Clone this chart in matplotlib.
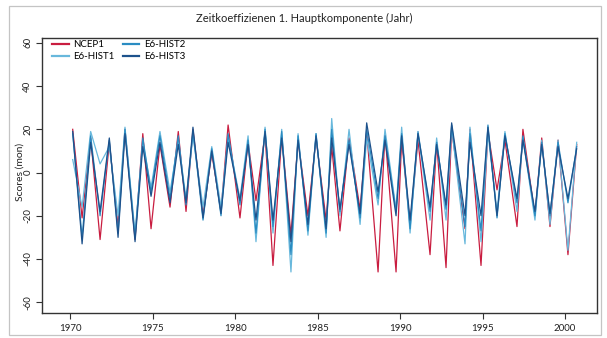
import numpy as np
import matplotlib.pyplot as plt
from matplotlib.patches import Rectangle

plt.rcParams['font.family'] = ['Lato', 'DejaVu Sans']

# turning points (peak, then trough, alternating)
peak_years = [1970.16, 1971.25, 1972.38, 1973.33, 1974.41, 1975.45, 1976.56, 1977.45,
              1978.59, 1979.58, 1980.79, 1981.82, 1982.83, 1983.82, 1984.91, 1985.86,
              1986.91, 1987.98, 1989.09, 1990.10, 1991.09, 1992.22, 1993.13, 1994.24,
              1995.33, 1996.36, 1997.45, 1998.59, 1999.58, 2000.71]
trough_years = [1970.73, 1971.82, 1972.91, 1973.94, 1974.91, 1976.06, 1977.03, 1978.06,
                1979.15, 1980.30, 1981.27, 1982.30, 1983.39, 1984.42, 1985.52, 1986.36,
                1987.58, 1988.67, 1989.76, 1990.61, 1991.82, 1992.79, 1993.94, 1994.91,
                1995.88, 1997.09, 1998.18, 1999.09, 2000.18]

ncep1_peaks = [20, 16, 14, 20, 18, 13, 19, 20, 9, 22, 14, 18, 17, 15, 16,
               12, 16, 19, 18, 15, 15, 14, 20, 20, 19, 15, 20, 16, 15, 13]
ncep1_troughs = [-21, -31, -25, -31, -26, -16, -18, -20, -18, -21, -13, -43, -29, -20, -22,
                 -27, -17, -46, -46, -24, -38, -44, -26, -43, -8, -25, -20, -25, -38]

hist1_peaks = [6, 19, 12, 21, 14, 19, 15, 17, 12, 16, 17, 21, 20, 18, 18,
               25, 20, 16, 20, 21, 18, 16, 21, 21, 18, 19, 16, 15, 15, 14]
hist1_troughs = [-16, 4, -20, -28, -7, -9, -12, -16, -16, -12, -32, -28, -46, -29, -30,
                 -20, -24, -15, -17, -28, -22, -22, -33, -32, -18, -18, -22, -24, -36]

hist2_peaks = [18, 17, 15, 20, 16, 17, 17, 19, 11, 18, 15, 20, 19, 17, 18,
               20, 15, 20, 17, 18, 19, 14, 22, 18, 22, 18, 17, 14, 14, 12]
hist2_troughs = [-30, -20, -28, -30, -9, -12, -15, -22, -20, -15, -28, -25, -38, -27, -28,
                 -18, -21, -12, -18, -26, -18, -17, -25, -27, -21, -14, -20, -20, -14]

hist3_peaks = [19, 14, 16, 18, 12, 14, 13, 21, 10, 14, 13, 19, 16, 15, 17,
               16, 13, 23, 15, 17, 18, 13, 23, 14, 21, 17, 15, 13, 12, 11]
hist3_troughs = [-33, -18, -30, -32, -11, -14, -14, -21, -19, -13, -22, -22, -32, -24, -26,
                 -17, -19, -9, -20, -22, -16, -15, -20, -20, -20, -12, -18, -19, -12]

labels = ['NCEP1', 'E6-HIST1', 'E6-HIST2', 'E6-HIST3']
colors = ['#c91d40', '#68b8dc', '#2a8cc2', '#1d528c']
xticks = [1970, 1975, 1980, 1985, 1990, 1995, 2000]
yticks = [-60, -40, -20, 0, 20, 40, 60]


def zigzag(peaks, troughs):
  '''
  interleave peaks and troughs into one line
  '''
  out = np.empty(len(peaks) + len(troughs))
  out[0::2] = peaks
  out[1::2] = troughs
  return out


years = zigzag(peak_years, trough_years)
values = [zigzag(ncep1_peaks, ncep1_troughs), zigzag(hist1_peaks, hist1_troughs),
          zigzag(hist2_peaks, hist2_troughs), zigzag(hist3_peaks, hist3_troughs)]

fig = plt.figure(figsize=(6.07, 3.38), dpi=100)
W, H = 607., 338.
ax = fig.add_axes([42/W, 1-313/H, 555/W, 275.5/H])

handles = []
for lab, col, val in zip(labels, colors, values):
  ln, = ax.plot(years, val, color=col, lw=0.9, label=lab, solid_joinstyle='round')
  handles.append(ln)

ax.set_xlim(1968.30, 2001.94)
ax.set_ylim(-65.0, 62.5)
ax.set_xticks(xticks)
ax.set_yticks(yticks)
ax.set_yticklabels([str(v) for v in yticks], rotation=90, va='center')
ax.tick_params(direction='out', length=4, width=0.8, color='#333333',
               labelsize=7, labelcolor='#222222')
ax.tick_params(axis='y', pad=3)
ax.tick_params(axis='x', pad=4)
for sp in ax.spines.values():
  sp.set_color('#333333')
  sp.set_linewidth(1.0)

leg = ax.legend(handles=handles, ncol=2, loc='upper left',
                bbox_to_anchor=((52-42)/555, 1-(40-37.5)/275.5),
                frameon=False, fontsize=7, borderpad=0, borderaxespad=0,
                handlelength=1.7, handletextpad=0.5, columnspacing=0.8,
                labelspacing=0.3)
for ln in leg.get_lines():
  ln.set_linewidth(1.6)

fig.text(304/W, 1-18/H, 'Zeitkoeffizienen 1. Hauptkomponente (Jahr)',
         ha='center', va='center', fontsize=8, color='#222222')
fig.text(20/W, 1-172/H, 'Scores (mon)', rotation=90, ha='center', va='center',
         fontsize=7.5, color='#222222')

# thin grey frame round the whole picture
fig.patches.append(Rectangle((8.5/W, 3/H), (601-8.5)/W, (332.5-3)/H,
                             transform=fig.transFigure, fill=False,
                             edgecolor='#c4c4c4', lw=0.9))

fig.savefig('out.png', dpi=100)
